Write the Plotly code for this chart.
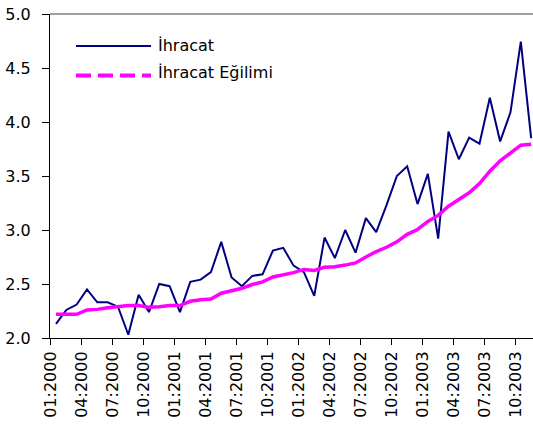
import plotly.graph_objects as go

# ---- data ----
ihracat = [2.13, 2.26, 2.31, 2.45, 2.33, 2.33, 2.29, 2.03, 2.40, 2.24, 2.50, 2.48,
           2.24, 2.52, 2.54, 2.61, 2.89, 2.56, 2.48, 2.575, 2.59, 2.81, 2.835, 2.67,
           2.61, 2.39, 2.93, 2.74, 3.00, 2.79, 3.11, 2.98, 3.23, 3.50, 3.59, 3.24,
           3.52, 2.92, 3.91, 3.655, 3.855, 3.80, 4.225, 3.82, 4.09, 4.745, 3.85]
egilim = [2.22, 2.22, 2.22, 2.26, 2.265, 2.28, 2.29, 2.30, 2.30, 2.285, 2.29, 2.30,
          2.30, 2.34, 2.355, 2.36, 2.415, 2.44, 2.46, 2.495, 2.52, 2.565, 2.585, 2.605,
          2.635, 2.625, 2.655, 2.66, 2.675, 2.695, 2.75, 2.80, 2.84, 2.89, 2.96, 3.005,
          3.08, 3.135, 3.22, 3.28, 3.345, 3.43, 3.545, 3.64, 3.71, 3.785, 3.795]
years = ["2000", "2001", "2002", "2003"]
months = ["01", "04", "07", "10"]
tick_labels = [f"{m}:{y}" for y in years for m in months]
y_ticks = [2.0, 2.5, 3.0, 3.5, 4.0, 4.5, 5.0]
series_names = ["İhracat", "İhracat Eğilimi"]

x = list(range(len(ihracat)))
tick_pos = [3 * i - 0.5 for i in range(len(tick_labels))]

W, H = 533, 430
L, R, T, B = 50, 0, 14, 92
FONT = "DejaVu Sans"
NAVY = "#000080"
MAGENTA = "#FF00FF"

fig = go.Figure()
fig.add_trace(go.Scatter(x=x, y=ihracat, mode="lines", name=series_names[0],
                         line=dict(color=NAVY, width=2), showlegend=False))
fig.add_trace(go.Scatter(x=x, y=egilim, mode="lines", name=series_names[1],
                         line=dict(color=MAGENTA, width=3.5), showlegend=False))

# manual legend (long line samples as in the reference)
pw = W - L - R
ph = H - T - B
def px_x(v):
    return (v - L) / pw
def px_y(v):
    return 1 - (v - T) / ph

legend_rows = [(series_names[0], NAVY, 2, "solid", 46, 45.5),
               (series_names[1], MAGENTA, 4, "15px,7px", 75.5, 72.5)]
shapes = [dict(type="line", xref="paper", yref="paper", x0=0, x1=1, y0=1, y1=1,
               line=dict(color="#404040", width=1))]
annotations = []
for name, col, wd, dash, ly, ty in legend_rows:
    shapes.append(dict(type="line", xref="paper", yref="paper",
                       x0=px_x(76), x1=px_x(151), y0=px_y(ly), y1=px_y(ly),
                       line=dict(color=col, width=wd, dash=dash)))
    annotations.append(dict(text=name, xref="paper", yref="paper",
                            x=px_x(156), y=px_y(ty), xanchor="left", yanchor="middle",
                            showarrow=False, font=dict(family=FONT, size=16, color="black")))

fig.update_layout(
    width=W, height=H,
    margin=dict(l=L, r=R, t=T, b=B),
    paper_bgcolor="white", plot_bgcolor="white",
    font=dict(family=FONT, size=16, color="black"),
    shapes=shapes, annotations=annotations,
    xaxis=dict(range=[-0.58, 46.18], tickmode="array", tickvals=tick_pos, ticktext=tick_labels,
               tickangle=-90, ticks="outside", ticklen=6, tickcolor="black",
               showline=True, linecolor="black", linewidth=1, automargin=False,
               showgrid=False, zeroline=False, tickfont=dict(family=FONT, size=16)),
    yaxis=dict(range=[2.0, 5.0], tickmode="array", tickvals=y_ticks,
               ticktext=[f"{v:.1f}" for v in y_ticks],
               ticks="outside", ticklen=7, tickcolor="black",
               showline=True, linecolor="black", linewidth=1, automargin=False,
               showgrid=False, zeroline=False, ticklabelstandoff=8,
               tickfont=dict(family=FONT, size=16)),
)

fig.write_html("out.html", config={"displayModeBar": False},
               post_script="document.body.style.margin='0';document.body.style.padding='0';")
